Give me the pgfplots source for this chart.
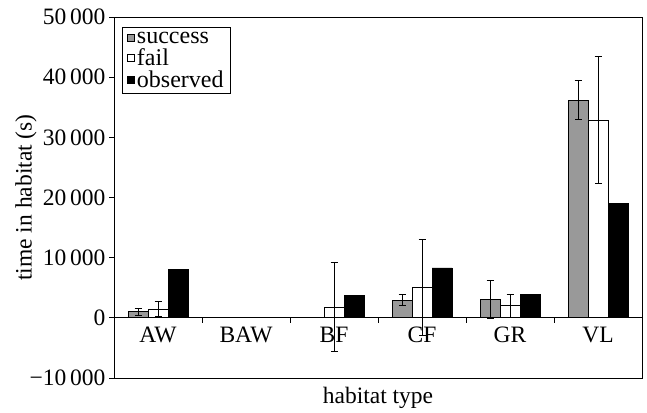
\documentclass[border=0pt]{standalone}
\usepackage{fontspec}
\setmainfont{Liberation Serif}
\usepackage{pgfplots}
\pgfplotsset{compat=1.18}
\definecolor{succgray}{RGB}{153,153,153}
\begin{document}
\begin{tikzpicture}[font=\fontsize{23.5bp}{26bp}\selectfont]
\begin{axis}[
  scale only axis, width=528bp, height=361bp,
  xmin=-0.5, xmax=5.5, ymin=-10000, ymax=50000,
  scaled y ticks=false,
  axis x line*=middle, axis y line*=left,
  axis line style={line width=0.8bp},
  ybar=0pt, bar width=20bp,
  ytick={-10000,0,10000,20000,30000,40000,50000},
  yticklabels={−10\,000,0,10\,000,20\,000,30\,000,40\,000,50\,000},
  xtick={0.5,1.5,2.5,3.5,4.5}, xticklabels={},
  extra x ticks={0,1,2,3,4,5},
  extra x tick labels={AW,BAW,BF,CF,GR,VL},
  extra x tick style={major tick length=0pt, tick label style={yshift=-6bp}},
  tick align=outside, major tick length=5bp,
  tick style={line width=0.8bp, black},
  ylabel={time in habitat (s)},
  ylabel style={at={(rel axis cs:0,0.5)}, yshift=88bp, anchor=center},
  xlabel={habitat type},
  xlabel style={at={(rel axis cs:0.5,0)}, anchor=north, yshift=-6bp},
  clip=false,
  legend cell align=left,
  legend style={at={(rel axis cs:0,1)}, anchor=north west, xshift=8bp, yshift=-10bp,
    draw=black, line width=0.8bp, inner xsep=5bp, inner ysep=2.5bp, row sep=0bp,
    font=\fontsize{24bp}{26bp}\selectfont},
  legend image code/.code={\draw[#1, line width=0.6bp] (0bp,-3.5bp) rectangle (7bp,3.5bp);},
  error bars/error bar style={line width=0.9bp, black},
  error bars/error mark options={rotate=90, mark size=3.5bp, line width=0.9bp, black},
]
\addplot[fill=succgray, draw=black, line width=0.7bp,
  error bars/.cd, y dir=both, y explicit]
  coordinates {(0,1000) +- (0,600) (1,60) +- (0,0) (2,100) +- (0,0)
               (3,2940) +- (0,950) (4,3060) +- (0,3100) (5,36200) +- (0,3250)};
\addplot[fill=white, draw=black, line width=0.7bp,
  error bars/.cd, y dir=both, y explicit]
  coordinates {(0,1450) +- (0,1300) (1,60) +- (0,0) (2,1730) +- (0,7400)
               (3,5000) +- (0,8000) (4,2000) +- (0,1900) (5,32900) +- (0,10500)};
\addplot[fill=black, draw=black, line width=0.7bp]
  coordinates {(0,8050) (1,120) (2,3700) (3,8300) (4,3900) (5,19000)};
\legend{success,fail,observed}
\draw[line width=0.8bp] (rel axis cs:0,0) rectangle (rel axis cs:1,1);
\coordinate (bbsw) at ([xshift=-114bp,yshift=-32bp]rel axis cs:0,0);
\coordinate (bbne) at ([xshift=5bp,yshift=17bp]rel axis cs:1,1);
\end{axis}
\useasboundingbox (bbsw) rectangle (bbne);
\end{tikzpicture}
\end{document}
